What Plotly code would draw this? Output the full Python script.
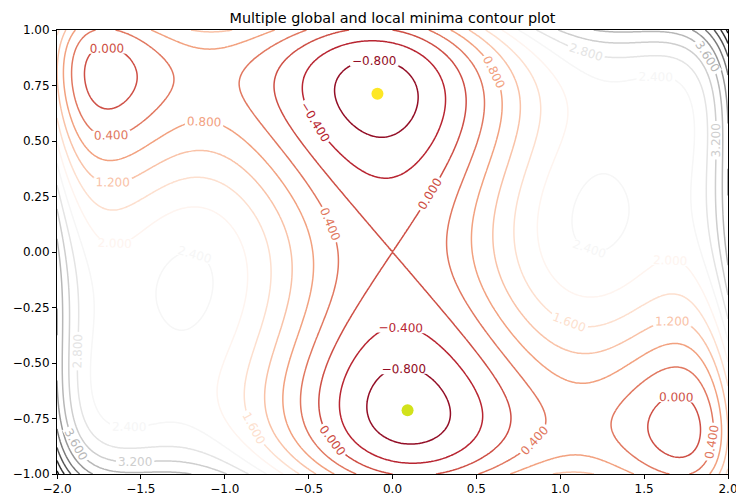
import numpy as np
import plotly.graph_objects as go

# Grid of the plotted surface (six-hump camel function)
x_vals = np.linspace(-2.0, 2.0, 401)
y_vals = np.linspace(-1.0, 1.0, 301)
X, Y = np.meshgrid(x_vals, y_vals)
Z = (4 - 2.1 * X**2 + X**4 / 3) * X**2 + X * Y + (-4 + 4 * Y**2) * Y**2

# Contour levels
level_start = -1.2
level_end = 5.6
level_step = 0.4

# Global minima markers
min_x = [-0.0898, 0.0898]
min_y = [0.7126, -0.7126]
min_colors = ["#fde725", "#d2e21b"]

rdgy = [
    [0.0, "#67001f"], [0.1, "#b2182b"], [0.2, "#d6604d"], [0.3, "#f4a582"],
    [0.4, "#fddbc7"], [0.5, "#ffffff"], [0.6, "#e0e0e0"], [0.7, "#bababa"],
    [0.8, "#878787"], [0.9, "#4d4d4d"], [1.0, "#1a1a1a"],
]

fig = go.Figure()
fig.add_trace(go.Contour(
    x=x_vals, y=y_vals, z=Z,
    colorscale=rdgy, zmin=level_start, zmax=level_end, zauto=False,
    showscale=False,
    line=dict(width=1.5),
    contours=dict(coloring="lines", start=level_start, end=level_end,
                  size=level_step, showlabels=True, labelformat=".3f",
                  labelfont=dict(size=12, family="DejaVu Sans")),
    hoverinfo="skip",
))
fig.add_trace(go.Scatter(
    x=min_x, y=min_y, mode="markers",
    marker=dict(size=12, color=min_colors, line=dict(width=0)),
    showlegend=False,
))

axis_common = dict(
    showgrid=False, zeroline=False, showline=True, linecolor="black",
    linewidth=1, mirror=True, ticks="outside", ticklen=4, tickcolor="black",
    tickfont=dict(size=12, color="black", family="DejaVu Sans"),
    automargin=False, ticklabeloverflow="allow",
)
fig.update_layout(
    width=736, height=498,
    margin=dict(l=57, r=8, t=30, b=24),
    plot_bgcolor="white", paper_bgcolor="white",
    title=dict(text="Multiple global and local minima contour plot",
               xref="paper", x=0.5, xanchor="center",
               yref="container", y=0.963, yanchor="middle",
               font=dict(size=14.4, color="black", family="DejaVu Sans")),
    xaxis=dict(range=[-2, 2], tickvals=[-2, -1.5, -1, -0.5, 0, 0.5, 1, 1.5, 2],
               ticktext=["−2.0", "−1.5", "−1.0", "−0.5", "0.0", "0.5", "1.0", "1.5", "2.0"],
               **axis_common),
    yaxis=dict(range=[-1, 1], tickvals=[-1, -0.75, -0.5, -0.25, 0, 0.25, 0.5, 0.75, 1],
               ticktext=["−1.00", "−0.75", "−0.50", "−0.25", "0.00", "0.25", "0.50", "0.75", "1.00"],
               **axis_common),
    showlegend=False,
)
fig.write_html("out.html")
